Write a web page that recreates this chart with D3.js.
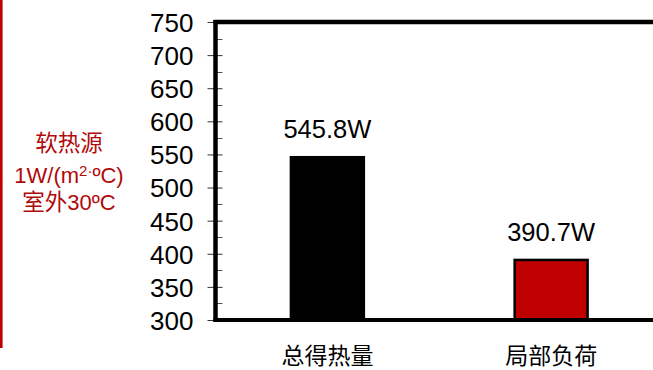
<!DOCTYPE html>
<html>
<head>
<meta charset="utf-8">
<script src="https://cdn.jsdelivr.net/npm/d3@7"></script>
<style>
  html, body { margin: 0; padding: 0; background: #fff; }
  svg { display: block; }
</style>
</head>
<body>
<svg id="chart" width="653" height="370"></svg>
<script>
// Heat gain vs. partial load (soft heat source, 1 W/(m²·ºC), outdoor 30ºC)
const categories = ["总得热量", "局部负荷"];
const values = [545.8, 390.7];
const valueLabels = ["545.8W", "390.7W"];
const barColors = ["#000000", "#C00000"];
const yTicks = [300, 350, 400, 450, 500, 550, 600, 650, 700, 750];
const yMinorTicks = [325, 375, 425, 475, 525, 575, 625, 675, 725];

const svg = d3.select("#chart");
const fontLatin = "'Liberation Sans', Arial, sans-serif";
const fontCJK = "'Noto Sans CJK SC', 'Liberation Sans', sans-serif";

const plotLeft = 215.5, plotTop = 22, plotBottom = 320, plotRight = 663;

const y = d3.scaleLinear().domain([300, 750]).range([plotBottom, plotTop]);
const x = d3.scaleBand().domain(categories).range([plotLeft, plotRight])
  .paddingInner(0.674).paddingOuter(0.337);

// Left red marker line
svg.append("line")
  .attr("x1", 1.3).attr("x2", 1.3).attr("y1", 0).attr("y2", 348)
  .attr("stroke", "#C00000").attr("stroke-width", 2.6);

// Annotation text
const note = svg.append("text")
  .attr("fill", "#B00A0A")
  .attr("text-anchor", "middle")
  .attr("font-size", 22);
note.append("tspan").attr("x", 69).attr("y", 151)
  .attr("font-family", fontCJK).attr("font-size", 22.5).text("软热源");
const l2 = note.append("tspan").attr("x", 69).attr("y", 183).attr("font-family", fontLatin);
l2.append("tspan").text("1W/(m");
l2.append("tspan").attr("font-size", 15).attr("dy", -7).text("2·");
l2.append("tspan").attr("dy", 7).text("ºC)");
const l3 = note.append("tspan").attr("x", 69).attr("y", 210);
l3.append("tspan").attr("font-family", fontCJK).attr("font-size", 22.5).text("室外");
l3.append("tspan").attr("font-family", fontLatin).text("30ºC");

// Minor ticks (inside)
svg.append("g").selectAll("line").data(yMinorTicks).join("line")
  .attr("x1", plotLeft).attr("x2", plotLeft + 7)
  .attr("y1", d => Math.round(y(d)) + 0.5).attr("y2", d => Math.round(y(d)) + 0.5)
  .attr("stroke", "#555").attr("stroke-width", 1);

// Major ticks and labels
const yAxis = d3.axisLeft(y).tickValues(yTicks).tickSize(8).tickPadding(14);
const gy = svg.append("g").attr("transform", `translate(${plotLeft},0)`).call(yAxis);
gy.select(".domain").remove();
gy.selectAll(".tick line").attr("x2", 7).attr("x1", -8).attr("stroke", "#333");
gy.selectAll(".tick text")
  .attr("font-family", fontLatin).attr("font-size", 26).attr("fill", "#000")
  .attr("x", -22).attr("dy", "0.36em");

// Bars
svg.append("g").selectAll("rect").data(categories).join("rect")
  .attr("x", d => x(d))
  .attr("y", (d, i) => y(values[i]))
  .attr("width", x.bandwidth())
  .attr("height", (d, i) => plotBottom - y(values[i]))
  .attr("fill", (d, i) => barColors[i])
  .attr("stroke", "#000").attr("stroke-width", 2.5);

// Value labels
svg.append("g").selectAll("text").data(categories).join("text")
  .attr("x", d => x(d) + x.bandwidth() / 2)
  .attr("y", (d, i) => y(values[i]) - 19)
  .attr("text-anchor", "middle")
  .attr("font-family", fontLatin).attr("font-size", 25.5).attr("fill", "#000")
  .text((d, i) => valueLabels[i]);

// Category labels
svg.append("g").selectAll("text").data(categories).join("text")
  .attr("x", d => x(d) + x.bandwidth() / 2)
  .attr("y", 364)
  .attr("text-anchor", "middle")
  .attr("font-family", fontCJK).attr("font-size", 23).attr("fill", "#000")
  .text(d => d);

// Frame: left axis, top and bottom borders
svg.append("line").attr("x1", plotLeft).attr("x2", plotLeft).attr("y1", plotTop - 2).attr("y2", plotBottom + 2)
  .attr("stroke", "#000").attr("stroke-width", 4.5);
svg.append("line").attr("x1", plotLeft - 2).attr("x2", 653).attr("y1", plotTop).attr("y2", plotTop)
  .attr("stroke", "#000").attr("stroke-width", 4.5);
svg.append("line").attr("x1", plotLeft - 2).attr("x2", 653).attr("y1", plotBottom).attr("y2", plotBottom)
  .attr("stroke", "#000").attr("stroke-width", 4);
</script>
</body>
</html>
